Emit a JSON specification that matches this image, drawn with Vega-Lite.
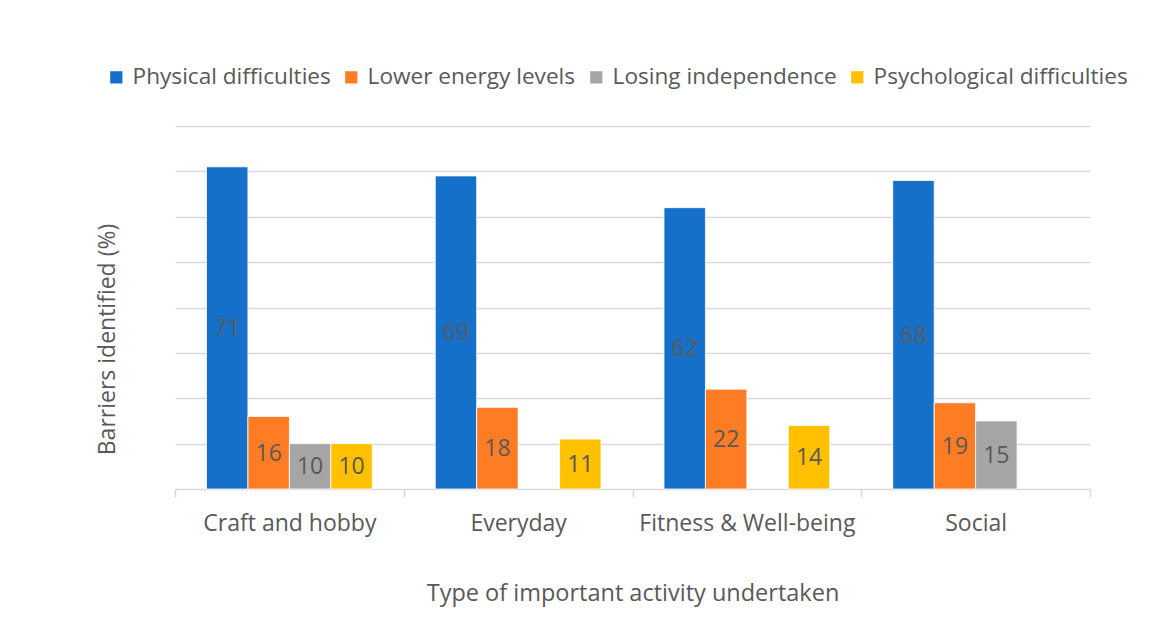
{
  "$schema": "https://vega.github.io/schema/vega-lite/v6.json",
  "autosize": {"type": "none"},
  "width": 915,
  "height": 363,
  "padding": {"left": 175, "top": 126, "right": 63, "bottom": 150},
  "background": "white",
  "config": {
    "font": "Open Sans",
    "view": {"stroke": null},
    "axis": {"labelColor": "#595959", "titleColor": "#595959", "titleFontWeight": "normal"}
  },
  "data": {
    "values": [
      {"activity": "Craft and hobby", "barrier": "Physical difficulties", "pct": 71},
      {"activity": "Craft and hobby", "barrier": "Lower energy levels", "pct": 16},
      {"activity": "Craft and hobby", "barrier": "Losing independence", "pct": 10},
      {"activity": "Craft and hobby", "barrier": "Psychological difficulties", "pct": 10},
      {"activity": "Everyday", "barrier": "Physical difficulties", "pct": 69},
      {"activity": "Everyday", "barrier": "Lower energy levels", "pct": 18},
      {"activity": "Everyday", "barrier": "Psychological difficulties", "pct": 11},
      {"activity": "Fitness & Well-being", "barrier": "Physical difficulties", "pct": 62},
      {"activity": "Fitness & Well-being", "barrier": "Lower energy levels", "pct": 22},
      {"activity": "Fitness & Well-being", "barrier": "Psychological difficulties", "pct": 14},
      {"activity": "Social", "barrier": "Physical difficulties", "pct": 68},
      {"activity": "Social", "barrier": "Lower energy levels", "pct": 19},
      {"activity": "Social", "barrier": "Losing independence", "pct": 15}
    ]
  },
  "encoding": {
    "x": {
      "field": "activity",
      "type": "nominal",
      "sort": ["Craft and hobby", "Everyday", "Fitness & Well-being", "Social"],
      "scale": {"paddingInner": 0, "paddingOuter": 0},
      "axis": {
        "title": "Type of important activity undertaken",
        "titleFontSize": 23.5,
        "titleY": 104,
        "titleBaseline": "middle",
        "labelAngle": 0,
        "labelFontSize": 23,
        "labelPadding": 15,
        "labelLimit": 300,
        "tickBand": "extent",
        "tickSize": 8,
        "tickColor": "#d9d9d9",
        "tickWidth": 1.5,
        "domainColor": "#d9d9d9",
        "domainWidth": 1.5
      }
    },
    "xOffset": {
      "field": "barrier",
      "type": "nominal",
      "scale": {"domain": ["Physical difficulties", "Lower energy levels", "Losing independence", "Psychological difficulties"], "paddingInner": 0, "paddingOuter": 0.76}
    }
  },
  "layer": [
    {
      "mark": {"type": "bar", "stroke": "white", "strokeWidth": 0.8},
      "encoding": {
        "y": {
          "field": "pct",
          "type": "quantitative",
          "scale": {"domain": [0, 80]},
          "axis": {
            "title": "Barriers identified (%)",
            "titleFontSize": 23,
            "titleX": -68,
            "titleY": 213,
            "titleAngle": -90,
            "titleAlign": "center",
            "titleBaseline": "middle",
            "labels": false,
            "ticks": false,
            "domain": false,
            "values": [10, 20, 30, 40, 50, 60, 70, 80],
            "gridColor": "#d9d9d9",
            "gridWidth": 1.5
          }
        },
        "color": {
          "field": "barrier",
          "type": "nominal",
          "scale": {
            "domain": ["Physical difficulties", "Lower energy levels", "Losing independence", "Psychological difficulties"],
            "range": ["#1570c9", "#fe7c23", "#a5a5a5", "#ffc000"]
          },
          "legend": {
            "title": null,
            "orient": "none",
            "direction": "horizontal",
            "legendX": -70,
            "legendY": -60,
            "symbolType": "square",
            "symbolSize": 150,
            "symbolStrokeWidth": 0,
            "labelFontSize": 22.6,
            "labelColor": "#595959",
            "labelOffset": 5,
            "columnPadding": 9,
            "labelLimit": 400
          }
        }
      }
    },
    {
      "mark": {"type": "text", "fontSize": 23, "color": "#595959", "baseline": "middle", "align": "center", "dy": 1},
      "encoding": {
        "y": {"field": "pct", "type": "quantitative", "scale": {"domain": [0, 160]}, "axis": null},
        "text": {"field": "pct", "type": "quantitative"}
      }
    }
  ],
  "resolve": {"scale": {"y": "independent"}}
}
